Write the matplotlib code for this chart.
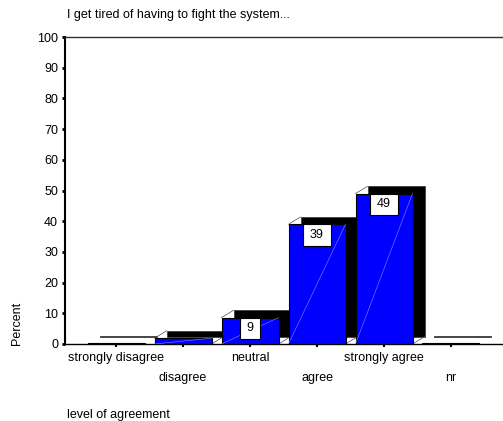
import numpy as np
import matplotlib
matplotlib.use("Agg")
import matplotlib.pyplot as plt
from matplotlib.patches import Rectangle

plt.rcParams['font.family'] = ['Liberation Sans', 'DejaVu Sans']

categories = ["strongly disagree", "disagree", "neutral", "agree", "strongly agree", "nr"]
percent = [0.3, 1.9, 8.6, 39.0, 49.0, 0.3]
labels = ["", "", "9", "39", "49", ""]

W, H = 503, 421
fs = 9
fig = plt.figure(figsize=(W / 100, H / 100), dpi=100)
ax = fig.add_axes([65 / W, 77 / H, 1 - 65 / W, 307 / H])

px_x = 67.0          # pixels per category
px_y = 3.07          # pixels per percent
bw = 57 / px_x       # front face width
dx = 12 / px_x       # depth offset
dy = 7.3 / px_y

for i, v in enumerate(percent):
    x0, x1 = i - bw / 2, i + bw / 2
    # back face
    ax.add_patch(Rectangle((x0 + dx, dy), bw, v, facecolor="black",
                           edgecolor="#404040", lw=0.6, zorder=2))
    if v > 1:
        ax.plot([x0, x0 + dx], [v, v + dy], color="#505050", lw=0.5, zorder=2)
        ax.plot([x1, x1 + dx], [0, dy], color="#505050", lw=0.5, zorder=2)
    # front face
    ax.add_patch(Rectangle((x0, 0), bw, v, facecolor="#0000ff",
                           edgecolor="black", lw=0.8, zorder=3))
    if v > 1:
        ax.plot([x0, x1], [0, v], color="#8888ff", lw=0.4, zorder=3)
    if labels[i]:
        bwid = (12 + 8 * len(labels[i])) / px_x
        bh = 21.5 / px_y
        ax.add_patch(Rectangle((i - bwid / 2, v - bh), bwid, bh, facecolor="white",
                               edgecolor="black", lw=0.8, zorder=4))
        ax.text(i, v - bh / 2, labels[i], ha="center", va="center",
                fontsize=fs, zorder=5)

ax.set_xlim(-51 / px_x, 5 + 52 / px_x)
ax.set_ylim(0, 100)
ax.set_yticks(np.arange(0, 101, 10))
ax.tick_params(axis="y", direction="out", length=2, width=2, pad=3, labelsize=fs)

ax.set_xticks([0, 2, 4])
ax.set_xticklabels([categories[0], categories[2], categories[4]])
ax.set_xticks([1, 3, 5], minor=True)
ax.set_xticklabels([categories[1], categories[3], categories[5]], minor=True)
ax.tick_params(axis="x", which="major", direction="out", length=2, width=1.5, pad=3.5, labelsize=fs)
ax.tick_params(axis="x", which="minor", direction="out", length=2, width=1.5, pad=18.5, labelsize=fs)

ax.spines["right"].set_visible(False)
ax.spines["left"].set_linewidth(1.5)
ax.spines["bottom"].set_linewidth(1.0)
ax.spines["top"].set_linewidth(1.0)
ax.spines["top"].set_color("#303030")

fig.text(67 / W, 1 - 15 / H, "I get tired of having to fight the system...", fontsize=fs,
         ha="left", va="center")
fig.text(67 / W, 1 - 415 / H, "level of agreement", fontsize=fs, ha="left", va="center")
fig.text(17 / W, 1 - 323 / H, "Percent", fontsize=fs, rotation=90, ha="center", va="center")

fig.savefig("out.png", dpi=100)
